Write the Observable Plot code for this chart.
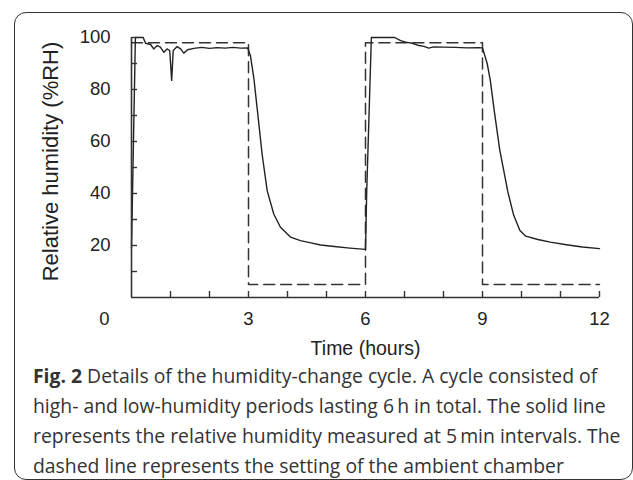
<!DOCTYPE html>
<html>
<head>
<meta charset="utf-8">
<script src="https://cdn.jsdelivr.net/npm/d3@7"></script>
<script src="https://cdn.jsdelivr.net/npm/@observablehq/plot@0.6"></script>
<style>
  html, body { margin: 0; padding: 0; background: #fff; }
  body { width: 633px; height: 480px; position: relative; overflow: hidden; }
  #frame { position: absolute; left: 14px; top: 12px; width: 619px; height: 468px;
           box-sizing: border-box; border: 1.6px solid #333; border-radius: 12px; }
  #chart { position: absolute; left: 0; top: 0; }
  #caption { position: absolute; left: 33px; top: 361px; font-family: "Open Sans", sans-serif;
             color: #333; white-space: nowrap; }
  #caption div { line-height: 30px; }
</style>
</head>
<body>
<div id="frame"></div>
<div id="chart"></div>
<div id="caption"></div>
<script>
// Measured relative humidity (solid line): time in hours, %RH
const solidHours = [0, 0.1, 0.3, 0.36, 0.49, 0.57, 0.66, 0.74, 0.83, 0.91, 0.98, 1.03, 1.07, 1.17, 1.26, 1.34, 1.44, 1.6, 1.8, 2.0, 2.2, 2.4, 2.6, 2.8, 2.98,
  3.05, 3.14, 3.22, 3.35, 3.48, 3.65, 3.82, 4.08, 4.33, 4.6, 4.85, 5.2, 5.6, 6.0,
  6.03, 6.15, 6.75, 6.9, 7.03, 7.2, 7.37, 7.5, 7.62, 7.75, 8.0, 8.3, 8.6, 8.9, 9.0,
  9.12, 9.2, 9.3, 9.44, 9.65, 9.8, 9.96, 10.11, 10.42, 10.74, 11.15, 11.56, 12.0];
const solidRH = [19, 100, 100, 97.8, 97.3, 95.6, 96.9, 96.3, 94.3, 95.6, 95, 83.5, 95, 96.5, 95.6, 94, 95.3, 95.8, 96.2, 95.8, 96.1, 95.9, 96.2, 95.9, 96,
  93, 84, 73, 55, 41, 32, 27, 23.2, 21.9, 21, 20.2, 19.6, 19, 18.5,
  40, 100, 100, 98.8, 98.2, 97.8, 96.9, 96.6, 95.9, 96.4, 96.3, 96.2, 96, 96.1, 96,
  90, 83.5, 72, 57, 40.6, 31.6, 25.8, 23.6, 22.3, 21.3, 20.3, 19.4, 18.8];
// Chamber setting (dashed line)
const settingHours = [0, 3, 3, 6, 6, 9, 9, 12];
const settingRH = [98, 98, 5, 5, 98, 98, 5, 5];
// Ticks and labels
const xTicks = [1, 2, 3, 4, 5, 6, 7, 8, 9, 10, 11, 12];
const yTicks = [10, 20, 30, 40, 50, 60, 70, 80, 90, 100];
const xLabels = [0, 3, 6, 9, 12];
const yLabels = [20, 40, 60, 80, 100];
const xTitle = "Time (hours)";
const yTitle = "Relative humidity (%RH)";
const captionLines = [
  ["Fig. 2", " Details of the humidity-change cycle. A cycle consisted of"],
  ["", "high- and low-humidity periods lasting 6\u2009h in total. The solid line"],
  ["", "represents the relative humidity measured at 5\u2009min intervals. The"],
  ["", "dashed line represents the setting of the ambient chamber"]
];

const solid = solidHours.map((h, i) => ({h, rh: solidRH[i]}));
const setting = settingHours.map((h, i) => ({h, rh: settingRH[i]}));

const W = 633, mL = 131, mR = 34, mT = 37, mB = 63, H = 360;
const plotW = W - mL - mR, plotH = H - mT - mB;
const ink = "#333";
const font = "Liberation Sans, Arial, sans-serif";

const chart = Plot.plot({
  width: W, height: H,
  marginLeft: mL, marginRight: mR, marginTop: mT, marginBottom: mB,
  style: {fontFamily: font, background: "transparent", overflow: "visible"},
  x: {domain: [0, 12], axis: null},
  y: {domain: [0, 100], axis: null},
  marks: [
    Plot.line(setting, {x: "h", y: "rh", stroke: ink, strokeWidth: 1.5, strokeDasharray: "11,6"}),
    Plot.line(solid, {x: "h", y: "rh", stroke: "#222", strokeWidth: 1.4, strokeLinejoin: "round"}),
    Plot.ruleX([0], {stroke: ink, strokeWidth: 1.6}),
    Plot.ruleY([0], {stroke: ink, strokeWidth: 1.6}),
    Plot.tickX(xTicks, {x: d => d, stroke: ink, strokeWidth: 1.4, insetTop: plotH - 6}),
    Plot.tickY(yTicks, {y: d => d, stroke: ink, strokeWidth: 1.4, insetRight: plotW - 6}),
    Plot.text(yLabels, {x: 0, y: d => d, text: d => String(d), dx: -21, textAnchor: "end", fontSize: 18.5, fill: "#222"}),
    Plot.text(xLabels.filter(d => d > 0), {x: d => d, y: 0, text: d => String(d), dy: 22, fontSize: 18.5, fill: "#222"}),
    Plot.text(xLabels.filter(d => d === 0), {x: d => d, y: 0, text: d => String(d), dx: -27, dy: 22, fontSize: 18.5, fill: "#222"}),
    Plot.text([xTitle], {frameAnchor: "bottom", dy: 57, fontSize: 19.5, fill: "#222"}),
    Plot.text([yTitle], {frameAnchor: "left", textAnchor: "middle", lineAnchor: "middle", dx: -81, dy: -6, rotate: -90, fontSize: 22, fill: "#222"})
  ]
});
document.getElementById("chart").appendChild(chart);

const cap = document.getElementById("caption");
captionLines.forEach(([b, t]) => {
  const d = document.createElement("div");
  if (b) { const s = document.createElement("b"); s.textContent = b; s.style.fontWeight = "700"; d.appendChild(s); }
  d.appendChild(document.createTextNode(t));
  cap.appendChild(d);
});
// fit caption font so the first line spans the same width as in the reference
cap.style.fontSize = "18px";
const first = cap.firstChild;
first.style.display = "inline-block";
const w = first.getBoundingClientRect().width;
first.style.display = "";
cap.style.fontSize = (18 * 565 / w).toFixed(2) + "px";
</script>
</body>
</html>
